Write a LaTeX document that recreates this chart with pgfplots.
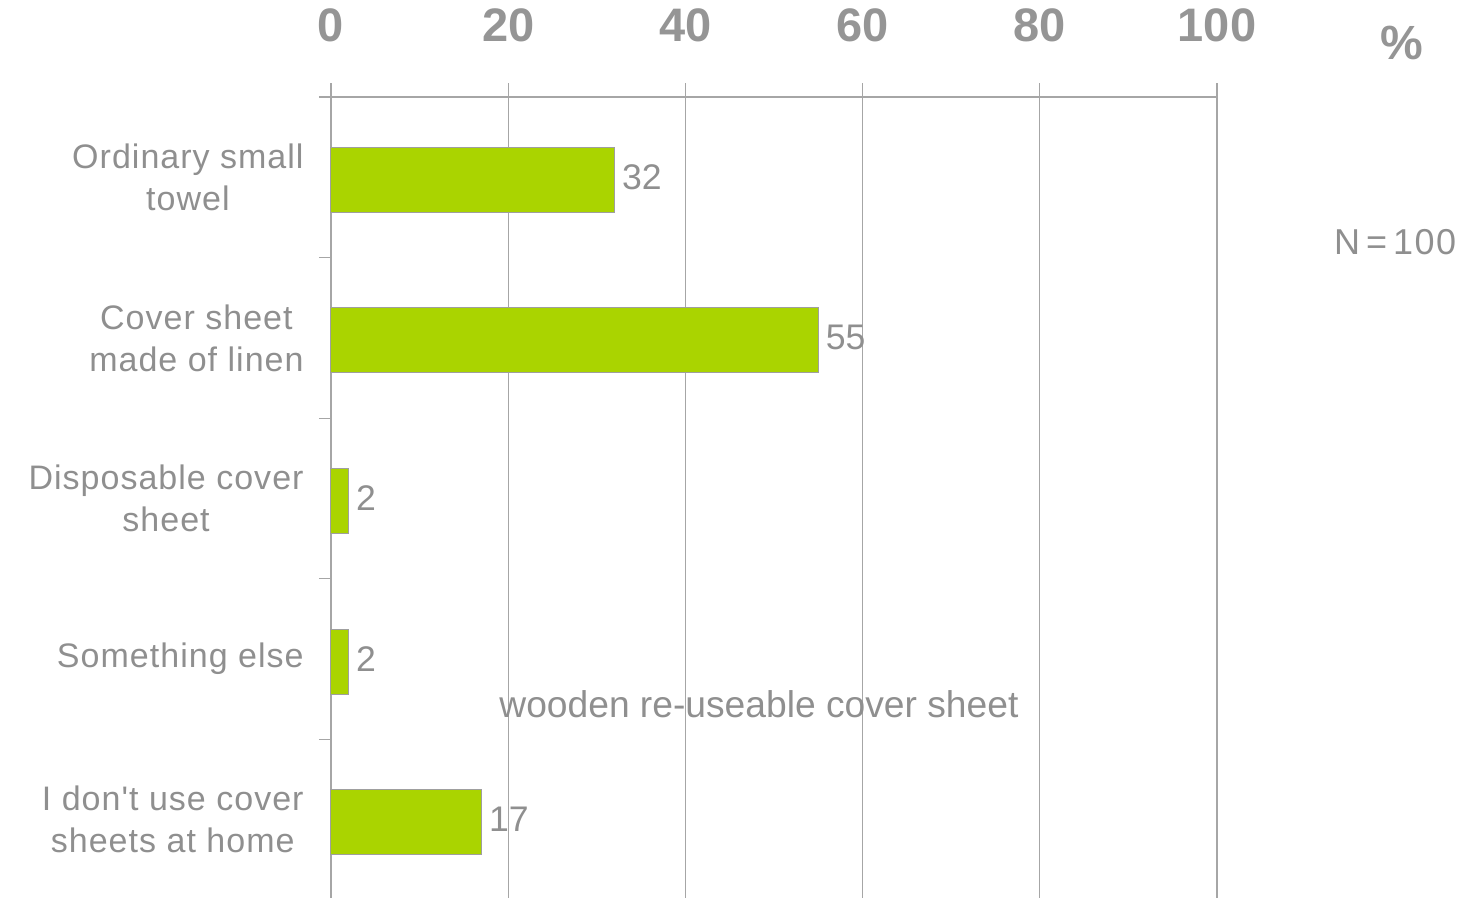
\documentclass[border=0pt]{standalone}
\usepackage{pgfplots}
\pgfplotsset{compat=1.18}
\usepackage{fontspec}
\setmainfont{Liberation Sans}[Ligatures=TeXOff]
\definecolor{barg}{HTML}{AAD400}
\definecolor{txtg}{HTML}{8F8F8F}
\definecolor{tickg}{HTML}{959595}
\definecolor{gridg}{HTML}{A6A6A6}
\begin{document}
\begin{tikzpicture}
\begin{axis}[
  at={(0,0)}, anchor=south west,
  scale only axis, width=443pt, height=401.5pt,
  /pgf/number format/assume math mode=true,
  xbar, bar width=32.5pt, bar shift=-1.2pt,
  xmin=0, xmax=100, ymin=-0.5, ymax=4.5, y dir=reverse,
  clip=false,
  axis x line*=top, axis y line*=left,
  axis line style={draw=gridg, line width=0.6pt},
  xtick={0,20,40,60,80,100},
  xmajorgrids, grid style={draw=gridg, line width=0.6pt},
  tick align=outside,
  major tick length=7pt,
  minor tick length=6pt,
  x tick style={draw=gridg, line width=0.6pt},
  xticklabel style={font=\fontsize{23.5}{23.5}\selectfont\bfseries, text=tickg, yshift=17pt},
  ytick={0,1,2,3,4},
  yticklabels={{Ordinary small\\towel},{Cover sheet\\made of linen},{Disposable cover\\sheet},{Something else},{I don't use cover\\sheets at home}},
  major y tick style={draw=none},
  minor ytick={-0.5,0.5,1.5,2.5,3.5,4.5},
  minor y tick style={draw=gridg, line width=0.6pt},
  yticklabel style={font=\fontsize{17}{21}\selectfont\addfontfeatures{LetterSpace=3}, text=txtg, align=center, anchor=east, inner sep=0pt, xshift=-6.5pt},
  point meta=x,
  nodes near coords,
  every node near coord/.append style={font=\fontsize{17.8}{20}\selectfont, text=txtg, anchor=west, inner sep=0pt, xshift=3.5pt, yshift=1.2pt},
]
\addplot[fill=barg, draw=gray!75, line width=0.5pt] coordinates {(32,0) (55,1) (2,2) (2,3) (17,4)};
\node[font=\fontsize{24}{24}\selectfont\bfseries, text=tickg] at (axis cs:120.9,-0.836) {\%};
\node[font=\fontsize{18}{18}\selectfont\addfontfeatures{LetterSpace=4}, text=txtg] at (axis cs:120.1,0.403) {N\,=\,100};
\node[font=\fontsize{18.6}{18.6}\selectfont, text=txtg] at (axis cs:48.3,3.28) {wooden re-useable cover sheet};
\end{axis}
\pgfresetboundingbox
\path[use as bounding box] (-165.5pt,1pt) rectangle (567.5pt,450pt);
\end{tikzpicture}
\end{document}
